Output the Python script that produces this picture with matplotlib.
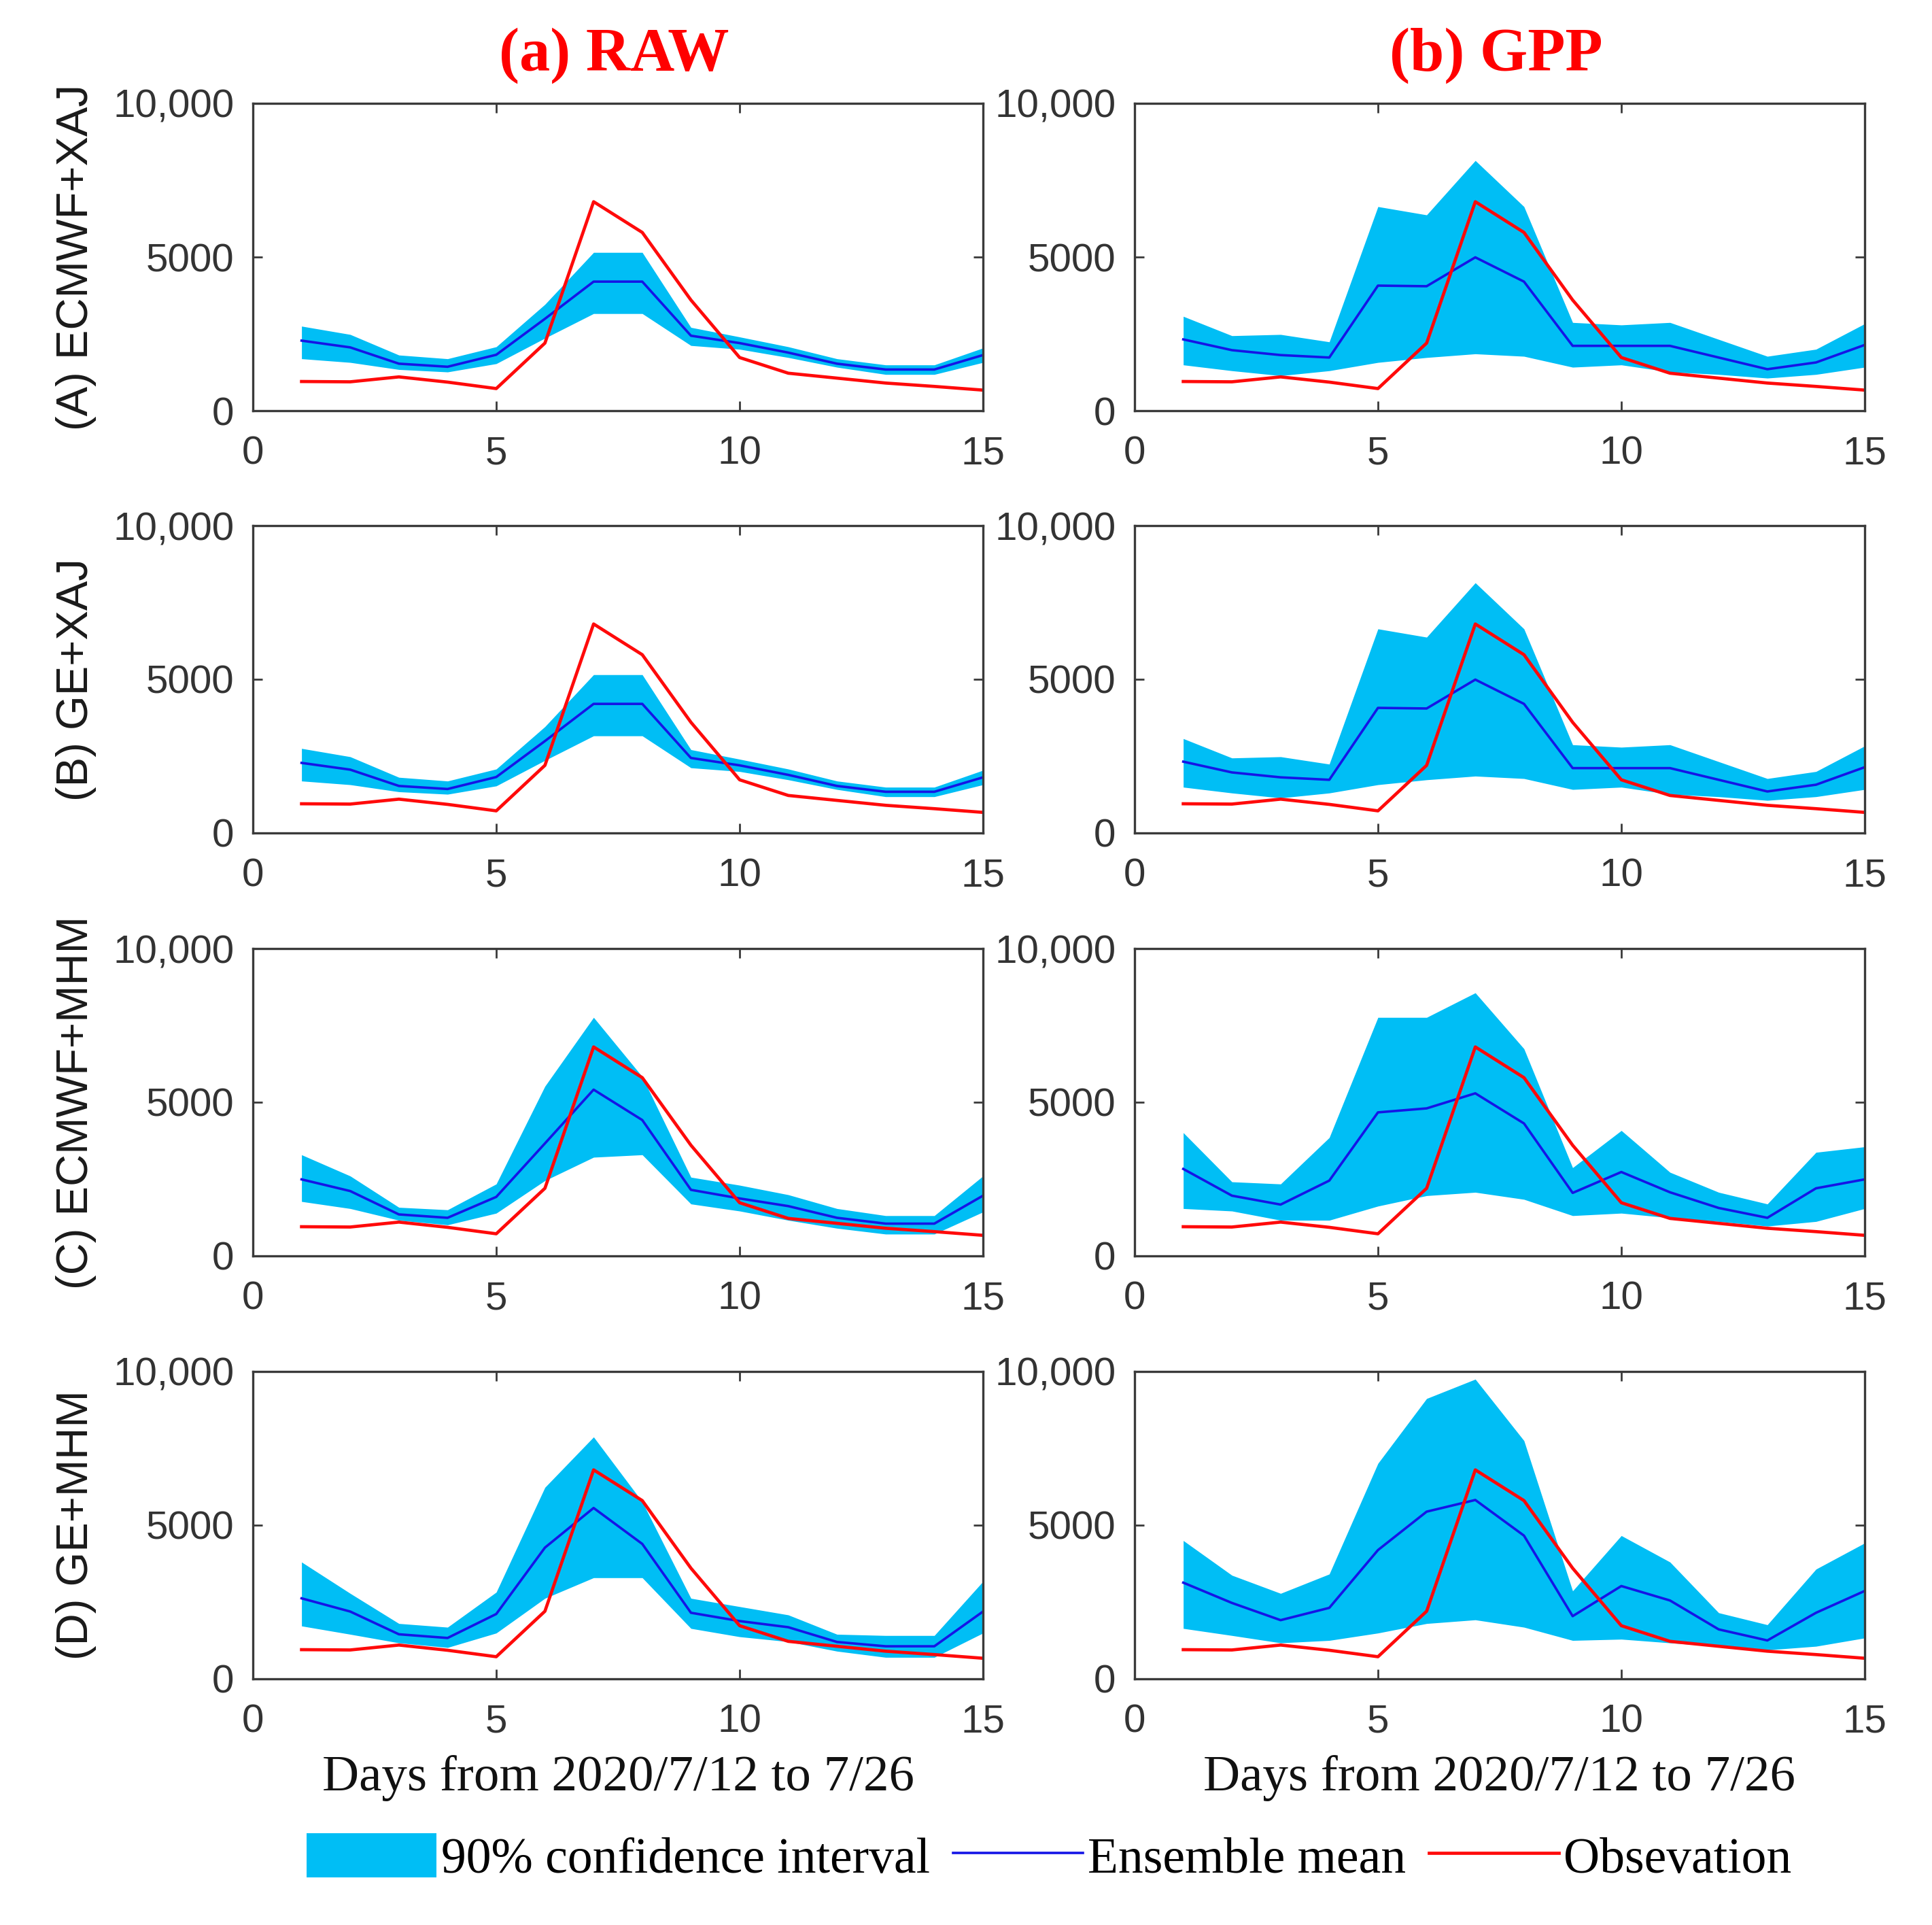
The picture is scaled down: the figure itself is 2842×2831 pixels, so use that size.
import matplotlib
matplotlib.use("Agg")
import matplotlib.pyplot as plt
from matplotlib.patches import Patch
from matplotlib.lines import Line2D

days = list(range(1, 16))
observation = [950, 940, 1100, 930, 720, 2200, 6800, 5800, 3600, 1730, 1220, 1060, 900, 790, 670]

# (A) ECMWF+XAJ
A_raw_mean = [2280, 2060, 1530, 1430, 1820, 2990, 4200, 4200, 2440, 2200, 1890, 1530, 1340, 1340, 1810]
A_raw_up = [2750, 2480, 1810, 1690, 2080, 3460, 5150, 5150, 2710, 2400, 2080, 1690, 1490, 1490, 2040]
A_raw_lo = [1690, 1570, 1340, 1260, 1530, 2360, 3160, 3160, 2120, 2000, 1730, 1415, 1180, 1180, 1570]
A_gpp_mean = [2320, 1970, 1810, 1730, 4070, 4050, 4990, 4200, 2110, 2110, 2110, 1730, 1350, 1570, 2140]
A_gpp_up = [3070, 2440, 2480, 2240, 6640, 6370, 8140, 6640, 2870, 2790, 2870, 2320, 1770, 2000, 2830]
A_gpp_lo = [1490, 1300, 1140, 1300, 1570, 1730, 1850, 1770, 1415, 1490, 1260, 1180, 1060, 1180, 1415]

# (B) GE+XAJ
B_raw_mean = [2280, 2060, 1530, 1430, 1820, 2990, 4200, 4200, 2440, 2200, 1890, 1530, 1340, 1340, 1810]
B_raw_up = [2750, 2480, 1810, 1690, 2080, 3460, 5150, 5150, 2710, 2400, 2080, 1690, 1490, 1490, 2040]
B_raw_lo = [1690, 1570, 1340, 1260, 1530, 2360, 3160, 3160, 2120, 2000, 1730, 1415, 1180, 1180, 1570]
B_gpp_mean = [2320, 1970, 1810, 1730, 4070, 4050, 4990, 4200, 2110, 2110, 2110, 1730, 1350, 1570, 2140]
B_gpp_up = [3070, 2440, 2480, 2240, 6640, 6370, 8140, 6640, 2870, 2790, 2870, 2320, 1770, 2000, 2830]
B_gpp_lo = [1490, 1300, 1140, 1300, 1570, 1730, 1850, 1770, 1415, 1490, 1260, 1180, 1060, 1180, 1415]

# (C) ECMWF+MHM
C_raw_mean = [2490, 2110, 1350, 1240, 1920, 3660, 5410, 4420, 2150, 1870, 1620, 1240, 1050, 1050, 1960]
C_raw_up = [3290, 2600, 1580, 1500, 2340, 5520, 7760, 5830, 2560, 2300, 1990, 1540, 1310, 1310, 2600]
C_raw_lo = [1770, 1540, 1160, 1010, 1390, 2450, 3210, 3290, 1690, 1460, 1160, 900, 710, 710, 1430]
C_gpp_mean = [2830, 1960, 1670, 2450, 4670, 4800, 5290, 4310, 2050, 2730, 2070, 1560, 1240, 2200, 2490]
C_gpp_up = [4010, 2410, 2340, 3850, 7760, 7760, 8560, 6740, 2870, 4080, 2720, 2070, 1690, 3370, 3550]
C_gpp_lo = [1540, 1460, 1160, 1160, 1620, 1960, 2070, 1840, 1310, 1390, 1240, 1120, 970, 1120, 1540]

# (D) GE+MHM
D_raw_mean = [2620, 2190, 1450, 1330, 2110, 4270, 5560, 4390, 2150, 1880, 1680, 1200, 1060, 1060, 2190]
D_raw_up = [3800, 2780, 1800, 1680, 2820, 6230, 7870, 5760, 2620, 2350, 2080, 1450, 1410, 1410, 3170]
D_raw_lo = [1720, 1450, 1170, 1020, 1490, 2620, 3290, 3290, 1640, 1370, 1210, 900, 700, 700, 1490]
D_gpp_mean = [3130, 2470, 1910, 2310, 4190, 5440, 5820, 4660, 2040, 3020, 2550, 1610, 1250, 2150, 2860]
D_gpp_up = [4500, 3370, 2780, 3410, 7010, 9120, 9750, 7750, 2860, 4660, 3800, 2150, 1760, 3570, 4420]
D_gpp_lo = [1640, 1410, 1170, 1250, 1490, 1800, 1920, 1680, 1250, 1290, 1170, 1060, 940, 1060, 1330]

row_labels = ["(A) ECMWF+XAJ", "(B) GE+XAJ", "(C) ECMWF+MHM", "(D) GE+MHM"]
col_titles = ["(a) RAW", "(b) GPP"]
x_ticks = [0, 5, 10, 15]
y_ticks = [0, 5000, 10000]
y_ticklabels = ["0", "5000", "10,000"]
xlabel_text = "Days from 2020/7/12 to 7/26"
legend_labels = ["90% confidence interval", "Ensemble mean", "Obsevation"]

panels = [
    [(A_raw_lo, A_raw_up, A_raw_mean), (A_gpp_lo, A_gpp_up, A_gpp_mean)],
    [(B_raw_lo, B_raw_up, B_raw_mean), (B_gpp_lo, B_gpp_up, B_gpp_mean)],
    [(C_raw_lo, C_raw_up, C_raw_mean), (C_gpp_lo, C_gpp_up, C_gpp_mean)],
    [(D_raw_lo, D_raw_up, D_raw_mean), (D_gpp_lo, D_gpp_up, D_gpp_mean)],
]

W, H = 2842, 2831
fig = plt.figure(figsize=(W / 100, H / 100), dpi=100)

FILL = "#00BEF5"
MEAN = "#1515E6"
OBS = "#FF0A0A"
SPINE = "#3a3a3a"
SANS = "Liberation Sans"
SERIF = "Liberation Serif"

col_lefts = [372 / W, 1669 / W]
col_width = 1074 / W
row_bottoms = [1 - 604 / H, 1 - 1225 / H, 1 - 1847 / H, 1 - 2469 / H]
row_height = 452 / H

for r in range(4):
    for c in range(2):
        lo, up, mean = panels[r][c]
        ax = fig.add_axes([col_lefts[c], row_bottoms[r], col_width, row_height])
        ax.fill_between(days, lo, up, color=FILL, linewidth=0)
        ax.plot(days, mean, color=MEAN, linewidth=2.6)
        ax.plot(days, observation, color=OBS, linewidth=3.4)
        ax.set_xlim(0, 15)
        ax.set_ylim(0, 10000)
        ax.set_xticks(x_ticks)
        ax.set_yticks(y_ticks)
        ax.set_yticklabels(y_ticklabels)
        ax.tick_params(direction="in", length=10, width=2, top=True, right=True,
                       labelsize=42, colors=SPINE, pad=20)
        ax.tick_params(axis="x", pad=26)
        for lab in ax.get_xticklabels() + ax.get_yticklabels():
            lab.set_family(SANS)
            lab.set_color("#333333")
        for s in ax.spines.values():
            s.set_linewidth(2.4)
            s.set_color(SPINE)
        if r == 3:
            ax.set_xlabel(xlabel_text, family=SERIF, fontsize=54, labelpad=16, color="#111111")
    fig.text(112 / W, row_bottoms[r] + row_height / 2, row_labels[r], rotation=90,
             ha="center", va="center", family=SANS, fontsize=47, color="#1a1a1a")

for c in range(2):
    fig.text(col_lefts[c] + col_width / 2 - 0.002, 1 - 82 / H, col_titles[c], ha="center", va="center",
             family=SERIF, fontweight="bold", fontsize=65, color="#FF0000")

handles = [Patch(facecolor=FILL, edgecolor="none"),
           Line2D([], [], color=MEAN, linewidth=2.6),
           Line2D([], [], color=OBS, linewidth=3.4)]
fig.legend(handles, legend_labels, loc="center", bbox_to_anchor=(0.543, 1 - 2733 / H),
           ncol=3, frameon=False, prop={"family": SERIF, "size": 53},
           handlelength=2.6, handleheight=0.97, handletextpad=0.1, columnspacing=0.45)

fig.savefig("out.png", dpi=100)
